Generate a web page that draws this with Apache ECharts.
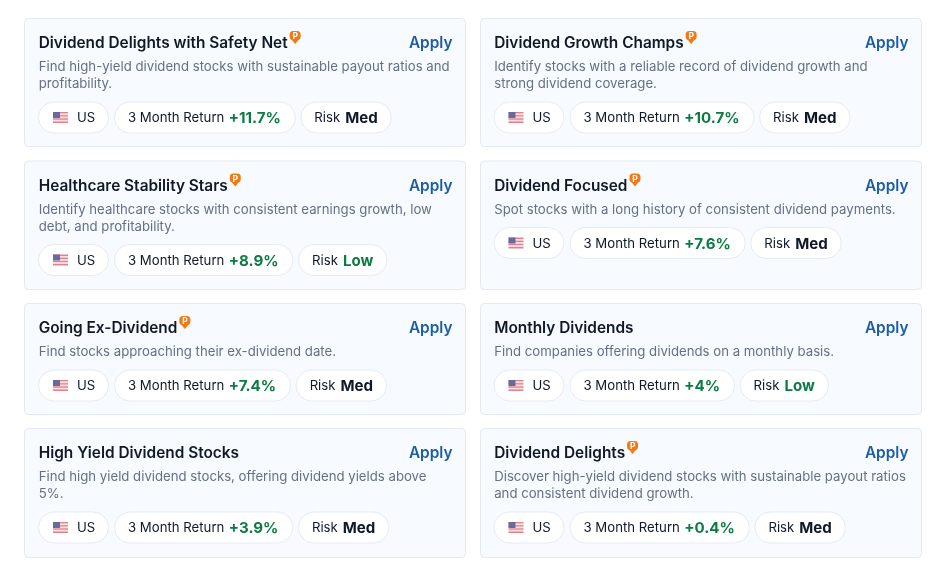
<!DOCTYPE html>
<html>
<head>
<meta charset="utf-8">
<style>
  html, body { margin: 0; padding: 0; background: #fff; }
  #main { width: 942px; height: 581px; }
</style>
<script src="https://cdn.jsdelivr.net/npm/echarts@6/dist/echarts.min.js"></script>
</head>
<body>
<div id="main"></div>
<script>
// card contents, left to right then top to bottom
const titles = [
  'Dividend Delights with Safety Net', 'Dividend Growth Champs',
  'Healthcare Stability Stars', 'Dividend Focused',
  'Going Ex-Dividend', 'Monthly Dividends',
  'High Yield Dividend Stocks', 'Dividend Delights'
];
const descriptions = [
  ['Find high-yield dividend stocks with sustainable payout ratios and', 'profitability.'],
  ['Identify stocks with a reliable record of dividend growth and', 'strong dividend coverage.'],
  ['Identify healthcare stocks with consistent earnings growth, low', 'debt, and profitability.'],
  ['Spot stocks with a long history of consistent dividend payments.'],
  ['Find stocks approaching their ex-dividend date.'],
  ['Find companies offering dividends on a monthly basis.'],
  ['Find high yield dividend stocks, offering dividend yields above', '5%.'],
  ['Discover high-yield dividend stocks with sustainable payout ratios', 'and consistent dividend growth.']
];
const returns3m = ['+11.7%', '+10.7%', '+8.9%', '+7.6%', '+7.4%', '+4%', '+3.9%', '+0.4%'];
const risks = ['Med', 'Med', 'Low', 'Med', 'Med', 'Low', 'Med', 'Med'];
const premium = [true, true, true, true, true, false, false, true];

const FONT = 'Inter, "Noto Sans", sans-serif';
const colLeft = [24, 479.5];
const cardW = [442, 442.5];
const rowTop = [18, 160.5, 303, 428];
const rowH = [129, 129.5, 112, 130];
const GREEN = '#0b7a43', DARK = '#111827';
const TITLE_SIZE = 15.4;
const VALUE_SIZE = 15.1;
const BODY_SIZE = 13.2;

const ctx = document.createElement('canvas').getContext('2d');
function textW(str, size, weight) {
  ctx.font = weight + ' ' + size + 'px Inter';
  return ctx.measureText(str).width;
}

function txt(x, y, str, size, weight, color, align) {
  return {
    type: 'text', silent: true,
    style: {
      x: x, y: y + 1, text: str, fill: color,
      font: weight + ' ' + size + 'px ' + FONT,
      textAlign: align || 'left', textVerticalAlign: 'middle'
    }
  };
}

function pill(x, cy, w) {
  return {
    type: 'rect',
    shape: { x: x + 0.5, y: cy - 15.5, width: w - 1, height: 31, r: 15.5 },
    style: { fill: '#fff', stroke: '#e6ebf3', lineWidth: 1 }
  };
}

function flag(x, y) {
  const out = [];
  const w = 15, h = 11;
  for (let i = 0; i < 7; i++) {
    out.push({
      type: 'rect',
      shape: { x: x, y: y + i * h / 7, width: w, height: h / 7 },
      style: { fill: i % 2 ? '#f8dfe2' : '#e4808c' }
    });
  }
  out.push({
    type: 'rect',
    shape: { x: x, y: y, width: 7, height: 6 },
    style: { fill: '#666a9c' }
  });
  return out;
}

function pin(x, y) {
  return [{
    type: 'rect',
    shape: { x: x, y: y, width: 11, height: 9, r: 3.5 },
    style: { fill: '#f07a14' }
  }, {
    type: 'polygon',
    shape: { points: [[x + 0.6, y + 7], [x + 10.4, y + 7], [x + 5.5, y + 13]] },
    style: { fill: '#f07a14' }
  }, txt(x + 5.6, y + 4.7, 'P', 8.5, 700, '#fff', 'center')];
}

const elements = [];
titles.forEach((title, i) => {
  const row = Math.floor(i / 2);
  const col = i % 2;
  const x = colLeft[col], y = rowTop[row];
  const cardX = Math.round(x);
  elements.push({
    type: 'rect',
    shape: { x: cardX + 0.5, y: y + 0.5, width: x + cardW[col] - cardX - 1, height: rowH[row] - 1, r: 4 },
    style: { fill: '#f7faff', stroke: '#e3e9f2', lineWidth: 1 }
  });
  const tx = x + 14.7;
  elements.push(txt(tx, y + 24.5, title, TITLE_SIZE, 600, DARK));
  if (premium[i]) elements.push(...pin(tx + textW(title, TITLE_SIZE, 600) + 2, y + 13));
  elements.push(txt(x + cardW[col] - 13.5, y + 24.5, 'Apply', TITLE_SIZE, 600, '#1c5da6', 'right'));

  descriptions[i].forEach((line, k) => {
    elements.push(txt(tx, y + 48.5 + k * 17, line, BODY_SIZE, 400, '#667085'));
  });

  // pills sit right below the description, whatever its length
  const cy = y + 48.5 + 17 * (descriptions[i].length - 1) + 34;
  let px = x + 14;
  elements.push(pill(px, cy, 71));
  elements.push(...flag(px + 15, cy - 5.5));
  elements.push(txt(px + 39, cy, 'US', BODY_SIZE, 400, DARK));
  px += 76;

  const labelW = textW('3 Month Return', BODY_SIZE, 400);
  const valW = textW(returns3m[i], VALUE_SIZE, 700);
  const retW = 14 + labelW + 4.5 + valW + 15;
  elements.push(pill(px, cy, retW));
  elements.push(txt(px + 14, cy, '3 Month Return', BODY_SIZE, 400, DARK));
  elements.push(txt(px + 14 + labelW + 4.5, cy, returns3m[i], VALUE_SIZE, 700, GREEN));
  px += retW + 4.5;

  const riskW = textW('Risk', BODY_SIZE, 400);
  const rvW = textW(risks[i], VALUE_SIZE, 700);
  elements.push(pill(px, cy, 14 + riskW + 5 + rvW + 14));
  elements.push(txt(px + 14, cy, 'Risk', BODY_SIZE, 400, DARK));
  elements.push(txt(px + 14 + riskW + 5, cy, risks[i], VALUE_SIZE, 700, risks[i] === 'Low' ? GREEN : DARK));
});

const chart = echarts.init(document.getElementById('main'), null, { renderer: 'canvas' });
chart.setOption({
  backgroundColor: '#fff',
  animation: false,
  graphic: { elements: elements }
});
</script>
</body>
</html>
